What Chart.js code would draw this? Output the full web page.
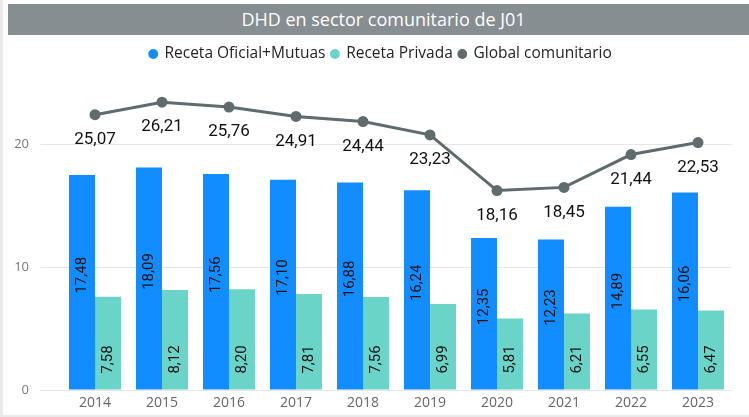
<!DOCTYPE html>
<html><head><meta charset="utf-8">
<script src="https://cdn.jsdelivr.net/npm/chart.js@4.4.1/dist/chart.umd.min.js"></script>
<style>
html,body{margin:0;padding:0;background:#fff;}
#wrap{position:relative;width:749px;height:417px;overflow:hidden;background:#fff;}
#title{position:absolute;left:8px;top:4px;width:731px;padding-left:10px;height:31px;background:#868E92;color:#fff;font:18px 'Open Sans',sans-serif;text-align:center;line-height:31px;z-index:2}
#lb{position:absolute;left:0;top:0;width:3px;height:417px;background:#e9e9e9;z-index:2}
#bb{position:absolute;left:0;top:415px;width:749px;height:2px;background:#e9e9e9;z-index:2}
canvas{position:absolute;left:0;top:0;}
</style></head><body>
<div id="wrap"><canvas id="c" width="749" height="417"></canvas><div id="title">DHD en sector comunitario de J01</div><div id="lb"></div><div id="bb"></div></div>
<script>
const categories = ['2014','2015','2016','2017','2018','2019','2020','2021','2022','2023'];
const seriesNames = ['Receta Oficial+Mutuas','Receta Privada','Global comunitario'];
const recetaOficial = [17.48,18.09,17.56,17.10,16.88,16.24,12.35,12.23,14.89,16.06];
const recetaPrivada = [7.58,8.12,8.20,7.81,7.56,6.99,5.81,6.21,6.55,6.47];
const globalComunitario = [25.07,26.21,25.76,24.91,24.44,23.23,18.16,18.45,21.44,22.53];
const yTicks = [0,10,20];

const fmt = v => v.toFixed(2).replace('.', ',');

const labelPlugin = {
  id:'valueLabels',
  afterDatasetsDraw(chart){
    const ctx = chart.ctx;
    ctx.save();
    [0,1].forEach(di=>{
      const meta = chart.getDatasetMeta(di);
      const data = chart.data.datasets[di].data;
      meta.data.forEach((bar,i)=>{
        const cy = di===0 ? (bar.base+bar.y)/2 - 7 : bar.base - 30;
        ctx.save();
        ctx.translate(bar.x, cy);
        ctx.rotate(-Math.PI/2);
        ctx.font = '15px Roboto';
        ctx.fillStyle = '#111';
        ctx.textAlign = 'center';
        ctx.textBaseline = 'middle';
        ctx.fillText(fmt(data[i]), 0, 0);
        ctx.restore();
      });
    });
    const lm = chart.getDatasetMeta(2);
    const ld = chart.data.datasets[2].data;
    lm.data.forEach((pt,i)=>{
      ctx.font = '17px Roboto';
      ctx.fillStyle = '#111';
      ctx.textAlign = 'center';
      ctx.textBaseline = 'middle';
      ctx.fillText(fmt(ld[i]), pt.x, pt.y + 25);
    });
    ctx.restore();
  }
};

const legendSpacer = {
  id:'legendSpacer',
  beforeLayout(chart){
    const l = chart.legend;
    if (l && !l._sp){
      const f = l.fit;
      l.fit = function(){ f.call(this); this.height += 10.75; };
      l._sp = true;
    }
  },
  afterLayout(chart){
    const l = chart.legend;
    if (l){ l.left += 10; l.right += 10; }
  }
};

new Chart(document.getElementById('c'), {
  type:'bar',
  data:{
    labels: categories,
    datasets:[
      {label: seriesNames[0], data: recetaOficial, backgroundColor:'#118DFF', yAxisID:'y', order:2, categoryPercentage:0.776, barPercentage:1.0},
      {label: seriesNames[1], data: recetaPrivada, backgroundColor:'#6BD4C8', yAxisID:'y', order:2, categoryPercentage:0.776, barPercentage:1.0},
      {label: seriesNames[2], data: globalComunitario, type:'line', yAxisID:'y1', order:1,
       borderColor:'#5F6B6D', backgroundColor:'#5F6B6D', borderWidth:3, pointRadius:5.5, pointHoverRadius:5.5,
       pointBackgroundColor:'#5F6B6D', pointBorderWidth:0, tension:0}
    ]
  },
  options:{
    responsive:false,
    animation:false,
    devicePixelRatio:1,
    layout:{padding:{top:40.25, left:10, right:17.5, bottom:0}},
    plugins:{
      legend:{
        position:'top',
        align:'center',
        labels:{
          usePointStyle:true, pointStyle:'circle', boxWidth:7, boxHeight:7, padding:6,
          font:{family:"'Open Sans'", size:15.5}, color:'#252423',
          sort:(a,b)=>a.datasetIndex-b.datasetIndex
        }
      },
      tooltip:{enabled:false},
      title:{display:false}
    },
    scales:{
      x:{
        grid:{display:false, drawTicks:false},
        border:{display:false},
        ticks:{font:{family:"'Open Sans'", size:14}, color:'#666', padding:4.6, maxRotation:0},
        afterFit(s){ s.height = 27; }
      },
      y:{
        position:'left',
        min:0, max:25,
        afterBuildTicks(s){ s.ticks = yTicks.map(v=>({value:v})); },
        grid:{color:'#e6e6e6', tickLength:21, drawTicks:true, tickColor:'#e6e6e6', lineWidth:1},
        border:{display:false},
        ticks:{font:{family:"'Open Sans'", size:13}, color:'#777', padding:11.5},
        afterFit(s){ s.width = 51.5; }
      },
      y1:{
        display:false,
        min:0, max:28
      }
    }
  },
  plugins:[labelPlugin, legendSpacer]
});
</script>
</body></html>
